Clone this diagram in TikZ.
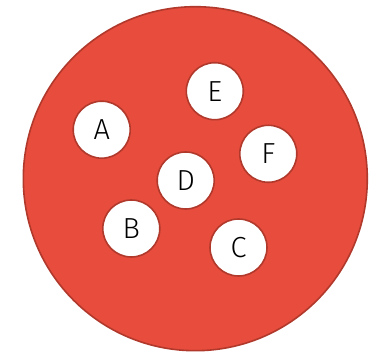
\documentclass[tikz,border=0pt]{standalone}
\usepackage{fontspec}
\setmainfont{Fira Sans Light}
\definecolor{bigfill}{HTML}{E74C3C}
\definecolor{bigline}{HTML}{B0392C}
\begin{document}
\begin{tikzpicture}[x=1pt,y=-1pt,
  ball/.style={circle,draw=bigline,line width=1.6pt,fill=white,minimum size=57pt,inner sep=0pt,font=\fontsize{29}{29}\selectfont}]
\useasboundingbox (0,0) rectangle (372,352);
\node[circle,draw=bigline,line width=1.6pt,fill=bigfill,minimum size=344pt,inner sep=0pt] (big) at (195.3,178.7) {};
\node[ball] (A) at (101.7,129.7) {A};
\node[ball] (E) at (214.8,91.2) {E};
\node[ball] (F) at (268.3,153.8) {F};
\node[ball] (D) at (185.7,180.5) {D};
\node[ball] (B) at (131.3,228.5) {B};
\node[ball] (C) at (238.5,247.5) {C};
\end{tikzpicture}
\end{document}
